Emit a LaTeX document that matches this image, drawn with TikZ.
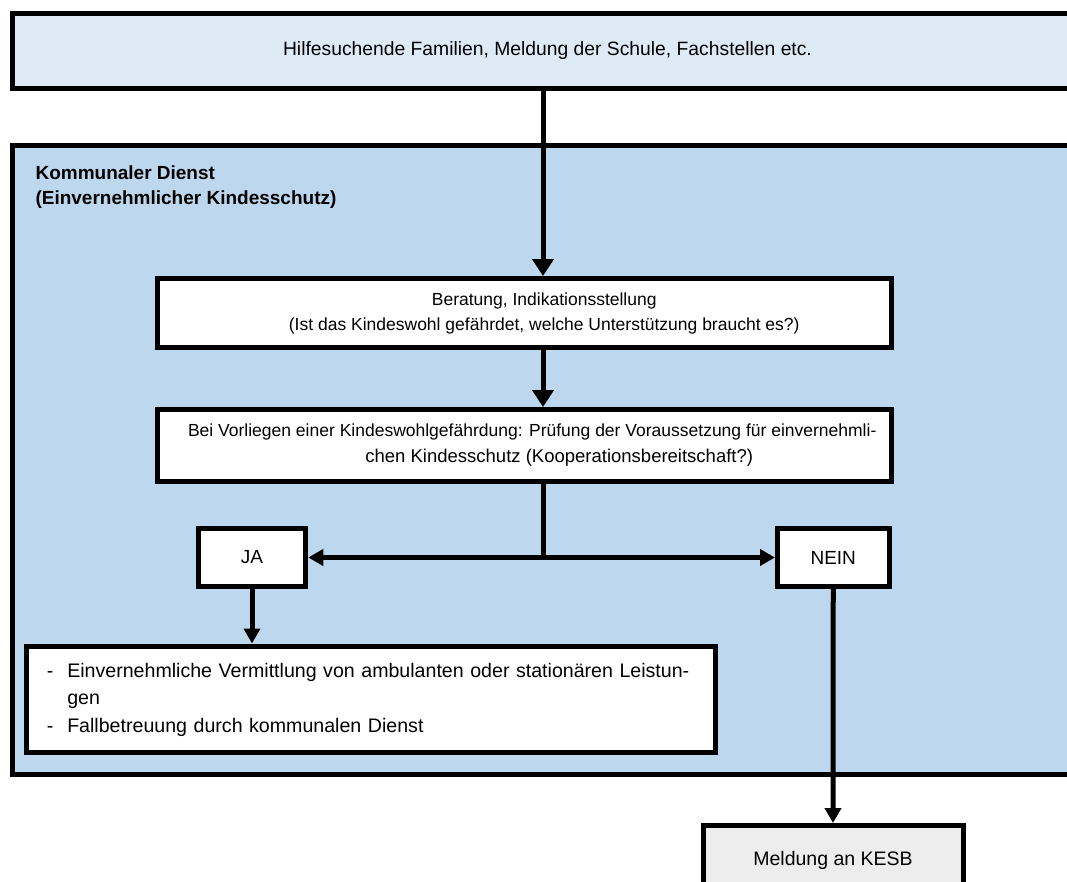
\documentclass[tikz,border=0pt]{standalone}
\usepackage{fontspec}
\setmainfont{Liberation Sans}
\usetikzlibrary{positioning,arrows.meta}
\definecolor{topfill}{HTML}{DEEAF6}
\definecolor{dienstfill}{HTML}{BDD7EE}
\definecolor{kesbfill}{HTML}{EDEDED}

\begin{document}
\begin{tikzpicture}[
    x=1pt, y=-1pt,
    every node/.style={font=\fontsize{19}{25}\selectfont},
    flowbox/.style={
      draw=black, line width=5pt,
      fill=white,
      inner sep=0pt,
      align=center
    },
    flowarrow/.style={line width=5pt, -{Triangle[width=21pt,length=17pt]}},
    smallarrow/.style={line width=5pt, -{Triangle[width=16pt,length=15pt]}}
  ]
  \clip (0,0) rectangle (1067,881);
  \fill[white] (0,0) rectangle (1067,881);

  % Rahmen
  \node[flowbox, fill=topfill, minimum width=1078pt, minimum height=75.5pt,
        font=\fontsize{19.3}{25}\selectfont] (quellen) at (551,50.75)
    {Hilfesuchende Familien, Meldung der Schule, Fachstellen etc.\hspace*{7pt}};
  \node[flowbox, fill=dienstfill, minimum width=1078pt, minimum height=629pt] (dienst) at (551,459.5) {};
  \node[anchor=north west, align=left, font=\fontsize{19}{25}\selectfont\bfseries] (dienstlabel) at (32,162)
    {Kommunaler Dienst\\(Einvernehmlicher Kindesschutz)};

  % Ablauf
  \node[flowbox, minimum width=733.5pt, minimum height=69pt,
        font=\fontsize{17.5}{25}\selectfont] (beratung) at (524.25,313)
    {\hspace*{40pt}Beratung, Indikationsstellung\\
     \hspace*{40pt}(Ist das Kindeswohl gefährdet, welche Unterstützung braucht es?)};
  \node[flowbox, minimum width=733.5pt, minimum height=71.5pt,
        font=\fontsize{17.5}{26}\selectfont] (pruefung) at (524.25,445.25)
    {\hspace*{16pt}Bei Vorliegen einer Kindeswohlgefährdung: Prüfung der Voraussetzung für einvernehmli-\\
     \hspace*{70pt}{\fontsize{18.5}{26}\selectfont chen Kindesschutz (Kooperationsbereitschaft?)}};
  \coordinate (achse) at (543,557.5);
  \node[flowbox, minimum width=107.5pt, minimum height=58pt] (ja) at (252,557.5) {JA};
  \node[flowbox, minimum width=111.5pt, minimum height=58pt] (nein) at (833.25,557.5) {NEIN};
  \node[flowbox, minimum width=688.5pt, minimum height=106pt, text width=648pt, align=left,
        font=\fontsize{19.6}{27.5}\selectfont] (leistungen) at (370.75,699)
    {\begin{tabular}{@{}l@{\hspace{14pt}}l@{}}
      - & Einvernehmliche Vermittlung von ambulanten oder stationären Leistun-\\
        & gen\\
      - & Fallbetreuung durch kommunalen Dienst
     \end{tabular}};
  \node[flowbox, fill=kesbfill, minimum width=260pt, minimum height=70pt,
        font=\fontsize{19.5}{25}\selectfont] (kesb) at (833,860.5)
    {Meldung an KESB};

  % Pfeile
  \draw[flowarrow] (achse |- quellen.south) -- (achse |- beratung.north);
  \draw[flowarrow] (achse |- beratung.south) -- (achse |- pruefung.north);
  \draw[line width=5pt] (achse |- pruefung.south) -- (achse);
  \draw[smallarrow] (achse) -- (ja.east);
  \draw[smallarrow] (achse) -- (nein.west);
  \draw[smallarrow] (ja.south) -- (ja.south |- leistungen.north);
  \draw[smallarrow] (nein.south) -- (kesb.north);
\end{tikzpicture}
\end{document}
